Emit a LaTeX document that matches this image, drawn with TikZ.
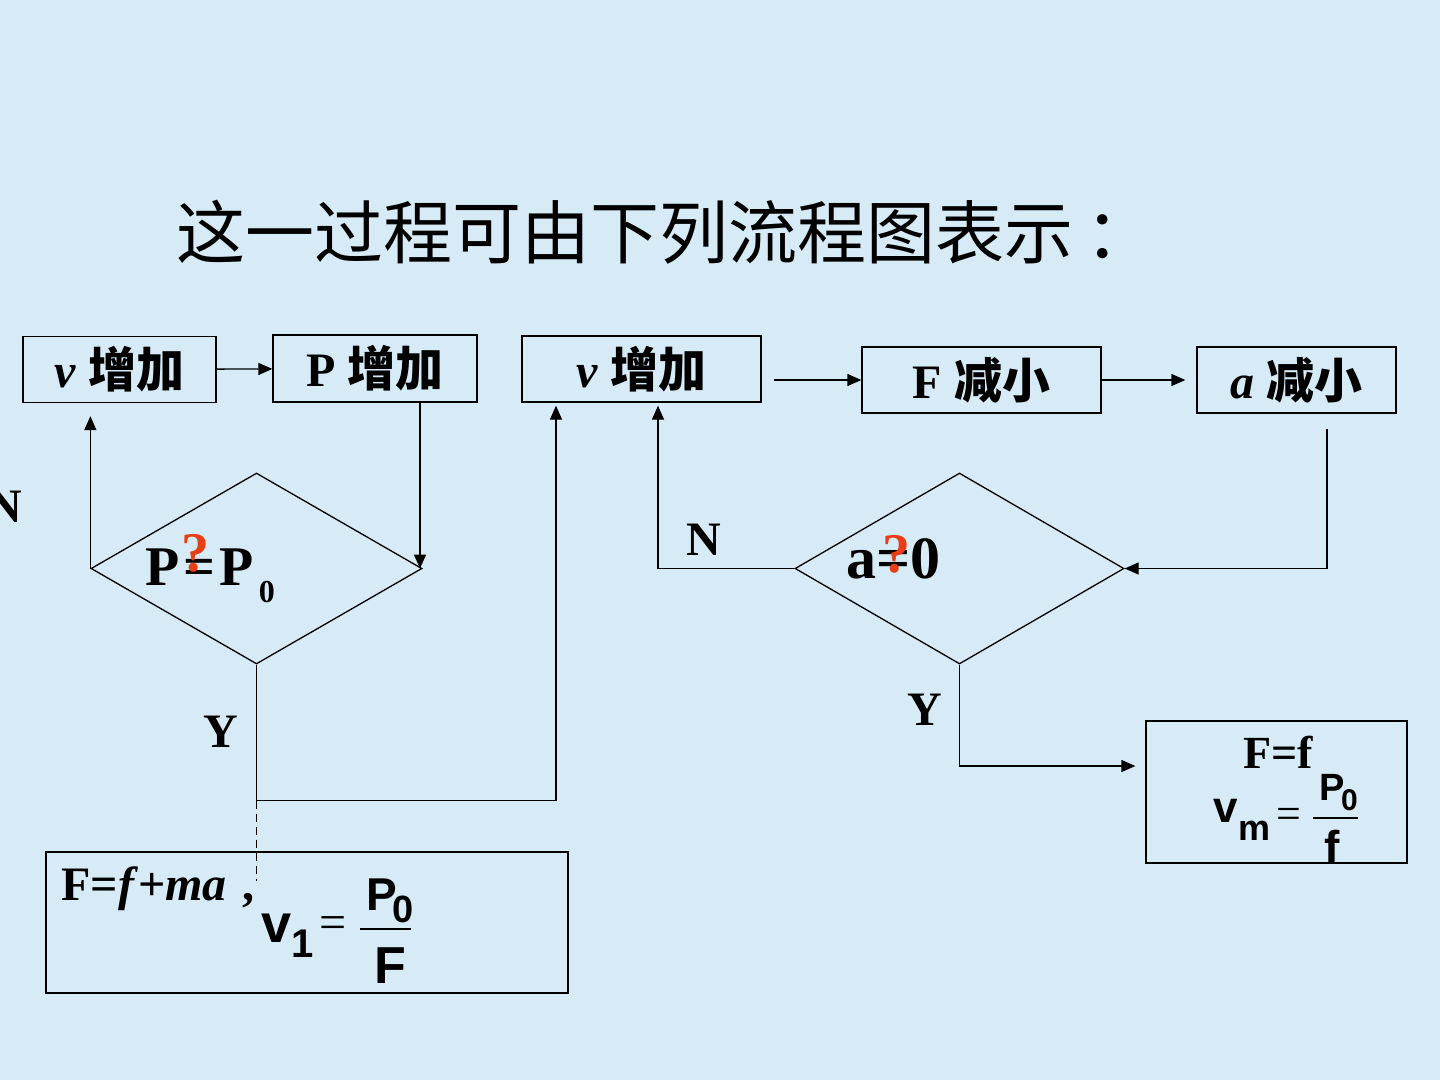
\documentclass[tikz,border=0pt]{standalone}
\usepackage{fontspec}
\setmainfont{Liberation Serif}
\setsansfont{Liberation Sans}
\newfontfamily\cjk{Noto Sans CJK SC}
\usepackage{tikz}
\usetikzlibrary{calc, arrows.meta, shapes.geometric, positioning}
\definecolor{slideblue}{RGB}{214,235,246}
\definecolor{qred}{RGB}{232,62,22}
\newcommand{\fs}[1]{\fontsize{#1}{#1}\selectfont}

\begin{document}
\begin{tikzpicture}[x=1pt, y=-1pt, line width=1.3pt,
			stage/.style={draw, rectangle, inner sep=0pt, minimum height=66pt, font=\fs{48}\bfseries},
			decision/.style={draw, diamond, inner sep=0pt, minimum width=331pt, minimum height=191pt},
			result/.style={draw, rectangle, inner sep=0pt},
			tag/.style={inner sep=0pt, font=\fs{48}\bfseries},
			flow/.style={-{Triangle[length=14pt, width=12pt]}}
			]
			\useasboundingbox (0,0) rectangle (1440,1080);
			\fill[slideblue] (0,0) rectangle (1440,1080);
			\node[anchor=west, inner sep=0pt, font=\cjk\fs{69}] (title) at (176,232) {这一过程可由下列流程图表示\kern12pt：};
			% top row
			\node[stage, minimum width=193pt] (vup1) at (119.5,369.5) {\textit{v} {\cjk 增加}};
			\node[stage, minimum width=204pt, minimum height=67pt] (pup) at (375,368.5) {P {\cjk 增加}};
			\node[stage, minimum width=239pt] (vup2) at (641.5,369) {\textit{v} {\cjk 增加}};
			\node[stage, minimum width=239pt] (fless) at (981.5,380) {F {\cjk 减小}};
			\node[stage, minimum width=199pt] (aless) at (1296.5,380) {\textit{a} {\cjk 减小}};
			% decisions
			\node[decision] (pcheck) at (256.5,568.5) {};
			\node[anchor=base west, inner sep=0pt, font=\fs{56}\bfseries] (pcond) at (145,585) {P\kern4pt=\kern4ptP\kern5pt\raisebox{-17pt}{\fs{32}0}};
			\node[anchor=base west, inner sep=0pt, font=\fs{56}\bfseries, text=qred] (pquery) at (181,571) {?};
			\node[decision, minimum width=329pt] (acheck) at (959.5,568.5) {};
			\node[anchor=base west, inner sep=0pt, font=\fs{60}\bfseries] (acond) at (846,578) {a=0};
			\node[anchor=base west, inner sep=0pt, font=\fs{56}\bfseries, text=qred] (aquery) at (882,572) {?};
			% results
			\node[result, minimum width=522pt, minimum height=141pt] (vone) at (307,922.5) {};
			\node[anchor=base west, inner sep=0pt, font=\fs{48}\bfseries] (law) at (61,900) {F=\textit{f}+\textit{ma}\hspace{16pt},};
			\node[anchor=base west, inner sep=0pt, font=\sffamily\bfseries\fs{54}] (vsub) at (261,942) {v\raisebox{-15pt}{\fs{40}1}};
			\node[inner sep=0pt, font=\fs{48}] (veq) at (333,928) {=};
			\node[anchor=base west, inner sep=0pt, font=\sffamily\bfseries\fs{46}] (vnum) at (366,910) {P\kern-5pt\raisebox{-12pt}{\fs{38}0}};
			\draw[line width=2pt] (360,929) -- (411,929);
			\node[anchor=base west, inner sep=0pt, font=\sffamily\bfseries\fs{52}] (vden) at (374,983) {F};
			\node[result, minimum width=261pt, minimum height=142pt] (vmax) at (1276.5,792) {};
			\node[anchor=base west, inner sep=0pt, font=\fs{46}\bfseries] (balance) at (1243,768) {F=f};
			\node[anchor=base west, inner sep=0pt, font=\sffamily\bfseries\fs{44}] (msub) at (1213,822) {v\raisebox{-18pt}{\fs{36}m}};
			\node[inner sep=0pt, font=\fs{44}] (meq) at (1289,818) {=};
			\node[anchor=base west, inner sep=0pt, font=\sffamily\bfseries\fs{38}] (mnum) at (1319,800) {P\kern-4pt\raisebox{-10pt}{\fs{30}0}};
			\draw[line width=2pt] (1313,818) -- (1358,818);
			\node[anchor=base west, inner sep=0pt, font=\sffamily\bfseries\fs{46}] (mden) at (1324,863) {f};
			% labels
			\node[tag] (nleft) at (4.5,507) {N};
			\node[tag] (yleft) at (221,732) {Y};
			\node[tag] (nright) at (704,540) {N};
			\node[tag] (yright) at (925,710) {Y};
			% connectors
			\coordinate (pdrop) at ($(pup.south)+(45,0)$);
			\coordinate (yturn) at ($(pcheck.south)+(0,136)$);
			\coordinate (ydash) at ($(yturn)+(0,80)$);
			\coordinate (vrise) at ($(vup2.south)+(-85.5,0)$);
			\coordinate (nrise) at ($(vup2.south)+(16.5,0)$);
			\coordinate (adrop) at ($(aless.south)+(30.5,15)$);
			\draw[flow] (vup1) -- (pup);
			\draw[flow] (pdrop) -- (pdrop |- pcheck.east);
			\draw[flow, shorten >=13pt] (pcheck.west) -- (pcheck.west |- vup1.south);
			\draw[flow, shorten >=3pt] (pcheck.south) -- (yturn) -| (vrise);
			\draw[dash pattern=on 8pt off 5pt] (yturn) -- (ydash);
			\draw[flow, shorten <=12pt] (vup2.east |- fless) -- (fless);
			\draw[flow, shorten >=11pt] (fless) -- (aless);
			\draw[flow] (adrop) |- (acheck.east);
			\draw[flow, shorten >=3pt] (acheck.west) -| (nrise);
			\draw[flow, shorten >=10pt] (acheck.south) |- ($(vmax.west)+(0,-26)$);
		\end{tikzpicture}
\end{document}
